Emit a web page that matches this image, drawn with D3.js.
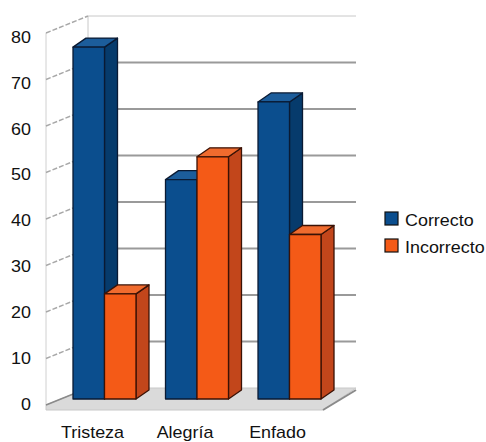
<!DOCTYPE html>
<html><head><meta charset="utf-8">
<script src="https://cdn.jsdelivr.net/npm/d3@7"></script>
<style>html,body{margin:0;padding:0;background:#fff;} svg{display:block;}</style>
</head><body>
<script>
const categories = ["Tristeza", "Alegría", "Enfado"];
const seriesNames = ["Correcto", "Incorrecto"];
const correcto = [77, 48, 65];
const incorrecto = [23, 53, 36];
const yTicks = [0, 10, 20, 30, 40, 50, 60, 70, 80];

const W = 486, H = 442;
const svg = d3.select("body").append("svg").attr("width", W).attr("height", H);
const FONT = "'Liberation Sans', Arial, sans-serif";
const SX = 1.12;

// scales
const yFront = d3.scaleLinear().domain([0, 80]).range([405, 33]);
const yBack = d3.scaleLinear().domain([0, 80]).range([388, 16]);
const yBar = d3.scaleLinear().domain([0, 80]).range([399, 33.4]);
const yLabel = d3.scaleLinear().domain([0, 80]).range([405, 37.5]);
const xFrontL = 46, xBackL = 88, xBackR = 356;
const x0 = d3.scaleBand().domain(categories).range([73, 321]).paddingInner(0.319).paddingOuter(0);
const x1 = d3.scaleBand().domain(seriesNames).range([0, x0.bandwidth()]).padding(0);
const color = d3.scaleOrdinal().domain(seriesNames).range(["#0b4e8e", "#f45a17"]);
const sideCol = d3.scaleOrdinal().domain(seriesNames).range(["#063b6c", "#c2461b"]);
const topCol = d3.scaleOrdinal().domain(seriesNames).range(["#1c5d9b", "#f06b2e"]);
const edgeCol = d3.scaleOrdinal().domain(seriesNames).range(["#0a1a33", "#3a1206"]);
const BDX = 13, BDY = -9;

// floor
svg.append("polygon")
  .attr("points", [[xFrontL, yFront(0)], [xBackL, yBack(0)], [xBackR, yBack(0)], [323, 410], [xFrontL, 410]].map(p => p.join(",")).join(" "))
  .attr("fill", "#dadada").attr("stroke", "#c8c8c8").attr("stroke-width", 1);
svg.append("line").attr("x1", 323).attr("y1", 410).attr("x2", xBackR).attr("y2", yBack(0) + 2)
  .attr("stroke", "#8a8a8a").attr("stroke-width", 2);

// left wall edges
svg.append("line").attr("x1", xFrontL).attr("y1", yFront(80)).attr("x2", xFrontL).attr("y2", yFront(0))
  .attr("stroke", "#d0d0d0").attr("stroke-width", 1);
svg.append("line").attr("x1", xBackL).attr("y1", yBack(80)).attr("x2", xBackL).attr("y2", yBack(0))
  .attr("stroke", "#c8c8c8").attr("stroke-width", 1);

// left wall grid (oblique)
svg.append("g").selectAll("line").data(yTicks).join("line")
  .attr("x1", xFrontL).attr("y1", d => yFront(d))
  .attr("x2", xBackL).attr("y2", d => yBack(d))
  .attr("stroke", d => d === 0 ? "#8a8a8a" : "#a8a8a8")
  .attr("stroke-width", 1.5)
  .attr("stroke-dasharray", d => d === 0 ? null : "5,2");

// back wall grid
svg.append("g").selectAll("line").data(yTicks.filter(d => d > 0)).join("line")
  .attr("x1", xBackL).attr("y1", d => yBack(d))
  .attr("x2", xBackR).attr("y2", d => yBack(d))
  .attr("stroke", d => d === 80 ? "#c8c8c8" : "#9a9a9a")
  .attr("stroke-width", d => d === 80 ? 1 : 2);

// bars
const rows = categories.map((c, i) => ({cat: c, vals: [correcto[i], incorrecto[i]]}));
rows.forEach(r => {
  r.vals.forEach((v, j) => {
    const s = seriesNames[j];
    const xa = x0(r.cat) + x1(s), xb = xa + x1.bandwidth();
    const yt = yBar(v), yb = yBar(0);
    const g = svg.append("g").attr("stroke", edgeCol(s)).attr("stroke-width", 1.3).attr("stroke-linejoin", "round");
    g.append("polygon").attr("fill", sideCol(s))
      .attr("points", [[xb, yt], [xb + BDX, yt + BDY], [xb + BDX, yb + BDY], [xb, yb]].map(p => p.join(",")).join(" "));
    g.append("polygon").attr("fill", topCol(s))
      .attr("points", [[xa, yt], [xb, yt], [xb + BDX, yt + BDY], [xa + BDX, yt + BDY]].map(p => p.join(",")).join(" "));
    g.append("rect").attr("fill", color(s))
      .attr("x", xa).attr("y", yt).attr("width", xb - xa).attr("height", yb - yt);
  });
});

// y labels
svg.append("g").selectAll("text").data(yTicks).join("text")
  .attr("transform", d => `translate(31,${yLabel(d)}) scale(${SX},1)`)
  .attr("text-anchor", "end").attr("dominant-baseline", "central")
  .attr("font-family", FONT).attr("font-size", 16).attr("fill", "#111")
  .text(d => d);

// x labels
svg.append("g").selectAll("text").data(categories).join("text")
  .attr("transform", d => `translate(${x0(d) + x0.bandwidth() / 2 - 12},438) scale(${SX},1)`)
  .attr("text-anchor", "middle")
  .attr("font-family", FONT).attr("font-size", 16).attr("fill", "#111")
  .text(d => d);

// legend
const leg = svg.append("g").selectAll("g").data(seriesNames).join("g")
  .attr("transform", (d, i) => `translate(385,${212 + i * 27})`);
leg.append("rect").attr("width", 13).attr("height", 13)
  .attr("fill", d => color(d)).attr("stroke", "#111").attr("stroke-width", 1.2);
leg.append("text")
  .attr("transform", `translate(20,14) scale(${SX},1)`)
  .attr("font-family", FONT).attr("font-size", 16).attr("fill", "#111")
  .text(d => d);
</script>
</body></html>
